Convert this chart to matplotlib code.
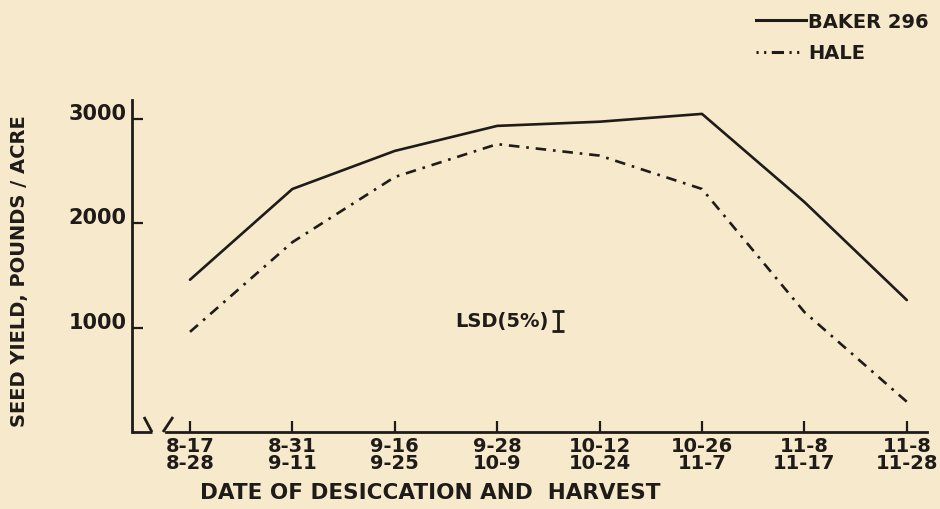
import matplotlib
matplotlib.use('Agg')
import matplotlib.pyplot as plt
from matplotlib.lines import Line2D

# ---- data -------------------------------------------------------------
dates_top = ['8-17', '8-31', '9-16', '9-28', '10-12', '10-26', '11-8', '11-8']
dates_bottom = ['8-28', '9-11', '9-25', '10-9', '10-24', '11-7', '11-17', '11-28']
baker_296 = [1460, 2330, 2695, 2935, 2975, 3050, 2205, 1265]
hale = [960, 1820, 2445, 2760, 2650, 2330, 1150, 290]
y_ticks = [1000, 2000, 3000]
y_tick_labels = ['1000', '2000', '3000']
lsd_5pct = 200

# ---- style ------------------------------------------------------------
BG = '#f7e9cb'
INK = '#1f1b18'
plt.rcParams['font.family'] = ['DejaVu Sans']
plt.rcParams['font.weight'] = 'bold'
DASHDOT = (0, (4, 2.6, 1, 2.6))

W, H = 940, 510
fig = plt.figure(figsize=(W / 100, H / 100), dpi=100, facecolor=BG)

x0_px, x_step = 190, 102.4       # pixel of first category, pixel step
left_px, right_px = 132, 927
y0_px, y_scale = 433, 0.1043      # baseline pixel, pixels per unit
ymax = 3300
ax = fig.add_axes([left_px / W, (H - y0_px) / H,
                   (right_px - left_px) / W, ymax * y_scale / H])
ax.set_facecolor(BG)
xs = list(range(len(dates_top)))
xlo = (left_px - x0_px) / x_step
xhi = (right_px - x0_px) / x_step
ax.set_xlim(xlo, xhi)
ax.set_ylim(0, ymax)

def px2data(px, py):
    return (px - x0_px) / x_step, (y0_px - py) / y_scale

# ---- series -----------------------------------------------------------
ax.plot(xs, baker_296, color=INK, lw=1.9, solid_joinstyle='round',
        solid_capstyle='round', clip_on=False)
ax.plot(xs, hale, color=INK, lw=1.9, linestyle=DASHDOT, clip_on=False)

# ---- axes -------------------------------------------------------------
for s in ('top', 'right'):
    ax.spines[s].set_visible(False)
ax.spines['left'].set_bounds(0, 3180)
ax.spines['bottom'].set_bounds(px2data(166, 0)[0], xhi)
for s in ('left', 'bottom'):
    ax.spines[s].set_linewidth(2)
    ax.spines[s].set_color(INK)

# axis break marks
for (ax_, ay_), (bx_, by_) in [((132, 433), (152, 433)),
                               ((144, 418), (152, 433)),
                               ((163, 433), (173, 418))]:
    p, q = px2data(ax_, ay_), px2data(bx_, by_)
    ax.plot([p[0], q[0]], [p[1], q[1]], color=INK, lw=2, clip_on=False,
            solid_capstyle='butt')

ax.set_yticks(y_ticks)
ax.set_yticklabels(y_tick_labels, fontsize=15)
ax.set_xticks(xs)
ax.set_xticklabels([f'{t}\n{b}' for t, b in zip(dates_top, dates_bottom)],
                   linespacing=0.85, fontsize=14)
ax.tick_params(axis='both', direction='in', length=8, width=1.6, colors=INK)
ax.tick_params(axis='y', pad=4)
ax.tick_params(axis='x', pad=3)
for lab in ax.get_yticklabels():
    lab.set_verticalalignment('baseline')

fig.text(20 / W, 1 - 271 / H, 'SEED YIELD, POUNDS / ACRE', rotation=90,
         ha='center', va='center', fontsize=14, color=INK)
fig.text(430 / W, 1 - 493 / H, 'DATE OF DESICCATION AND  HARVEST',
         ha='center', va='center', fontsize=15.5, color=INK)

# LSD bar
lx, ly = px2data(558, 322)
ax.errorbar([lx], [ly], yerr=[lsd_5pct / 2], fmt='none', ecolor=INK,
            elinewidth=2, capsize=4, capthick=2)
ax.annotate('LSD(5%)', xy=(lx, ly), xytext=(-7, 0), textcoords='offset points',
            ha='right', va='center', fontsize=14, color=INK)

# legend
handles = [Line2D([], [], color=INK, lw=2.2),
           Line2D([], [], color=INK, lw=2.2,
                  linestyle=(0, (0.7, 1.8, 0.7, 1.8, 4, 1.8, 0.7, 1.8, 0.7, 3)))]
fig.legend(handles, ['BAKER 296', 'HALE'], loc='upper left',
           bbox_to_anchor=(746 / W, 1 - 3 / H), frameon=False, fontsize=14,
           handlelength=2.6, handletextpad=0.1, labelspacing=0.65,
           borderpad=0, labelcolor=INK)

fig.savefig('out.png', dpi=100, facecolor=BG)
